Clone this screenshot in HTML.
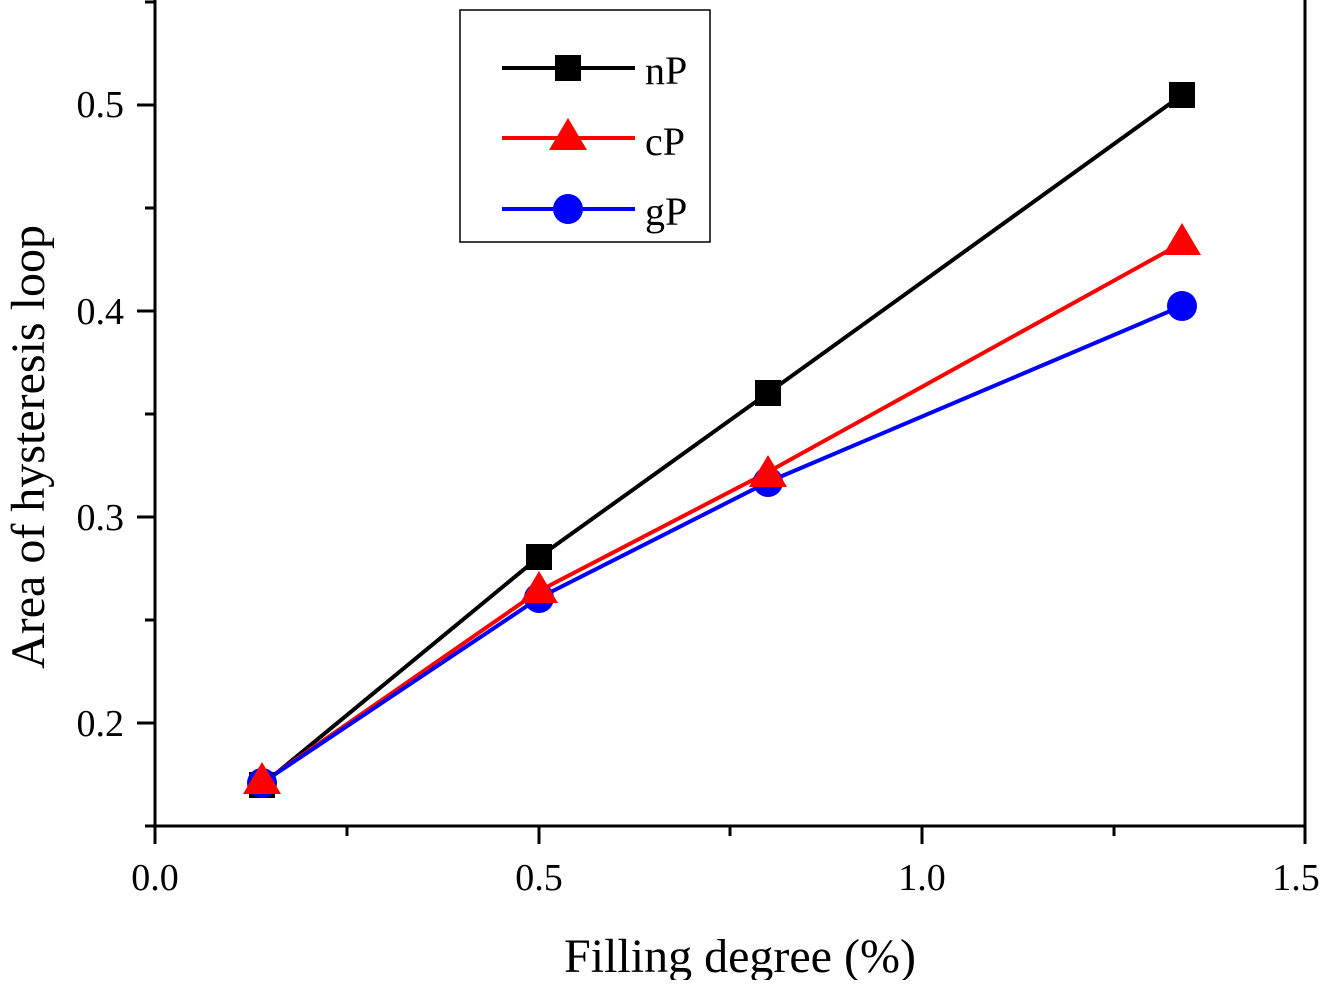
<!DOCTYPE html><html><head><style>body{margin:0;background:#fff}</style></head><body>
<svg width="1328" height="980" xmlns="http://www.w3.org/2000/svg" font-family="Liberation Serif, serif">
<g stroke="#000" stroke-width="3" fill="none">
<path d="M155,0V826H1305V0"/>
<path d="M155,826V844M539,826V844M922,826V844M1305,826V844M347,826V836M730,826V836M1114,826V836"/>
<path d="M137,723H155M137,517H155M137,311H155M137,105H155M145,826H155M145,620H155M145,414H155M145,208H155M145,2H155"/>
</g>
<g font-size="38" text-anchor="middle" fill="#000">
<text x="155" y="890">0.0</text><text x="539" y="890">0.5</text><text x="922" y="890">1.0</text><text x="1296" y="890">1.5</text>
</g>
<g font-size="38" text-anchor="end" fill="#000">
<text x="124" y="736">0.2</text><text x="124" y="530">0.3</text><text x="124" y="324">0.4</text><text x="124" y="117">0.5</text>
</g>
<text x="740" y="972" font-size="48" text-anchor="middle">Filling degree  (%)</text>
<text transform="translate(44,447) rotate(-90)" font-size="48" text-anchor="middle">Area of hysteresis loop</text>
<polyline points="262,785 539,557 768,393 1182,95" stroke="#000" stroke-width="4" fill="none"/>
<polyline points="262,783 539,591 768,472 1182,243" stroke="#f00" stroke-width="4" fill="none"/>
<polyline points="262,783 539,598 768,482 1182,306" stroke="#00f" stroke-width="4" fill="none"/>
<g fill="#000"><rect x="249" y="772" width="26" height="26"/><rect x="526" y="544" width="26" height="26"/><rect x="755" y="380" width="26" height="26"/><rect x="1169" y="82" width="26" height="26"/></g>
<g fill="#00f"><circle cx="262" cy="783" r="15"/><circle cx="539" cy="598" r="15"/><circle cx="768" cy="482" r="15"/><circle cx="1182" cy="306" r="15"/></g>
<g fill="#f00"><path d="M262,762L281,794H243Z"/><path d="M539,571L558,603H520Z"/><path d="M768,455L787,487H749Z"/><path d="M1182,223L1201,255H1163Z"/></g>
<rect x="460" y="10" width="250" height="232" fill="#fff" stroke="#000" stroke-width="1.5"/>
<path d="M502,68H635" stroke="#000" stroke-width="4"/><rect x="555" y="55" width="26" height="26"/>
<path d="M502,138H635" stroke="#f00" stroke-width="4"/><path d="M568,118L587,150H549Z" fill="#f00"/>
<path d="M502,209H635" stroke="#00f" stroke-width="4"/><circle cx="568" cy="209" r="15" fill="#00f"/>
<g font-size="40"><text x="645" y="84">nP</text><text x="645" y="155">cP</text><text x="645" y="225">gP</text></g>
</svg></body></html>
